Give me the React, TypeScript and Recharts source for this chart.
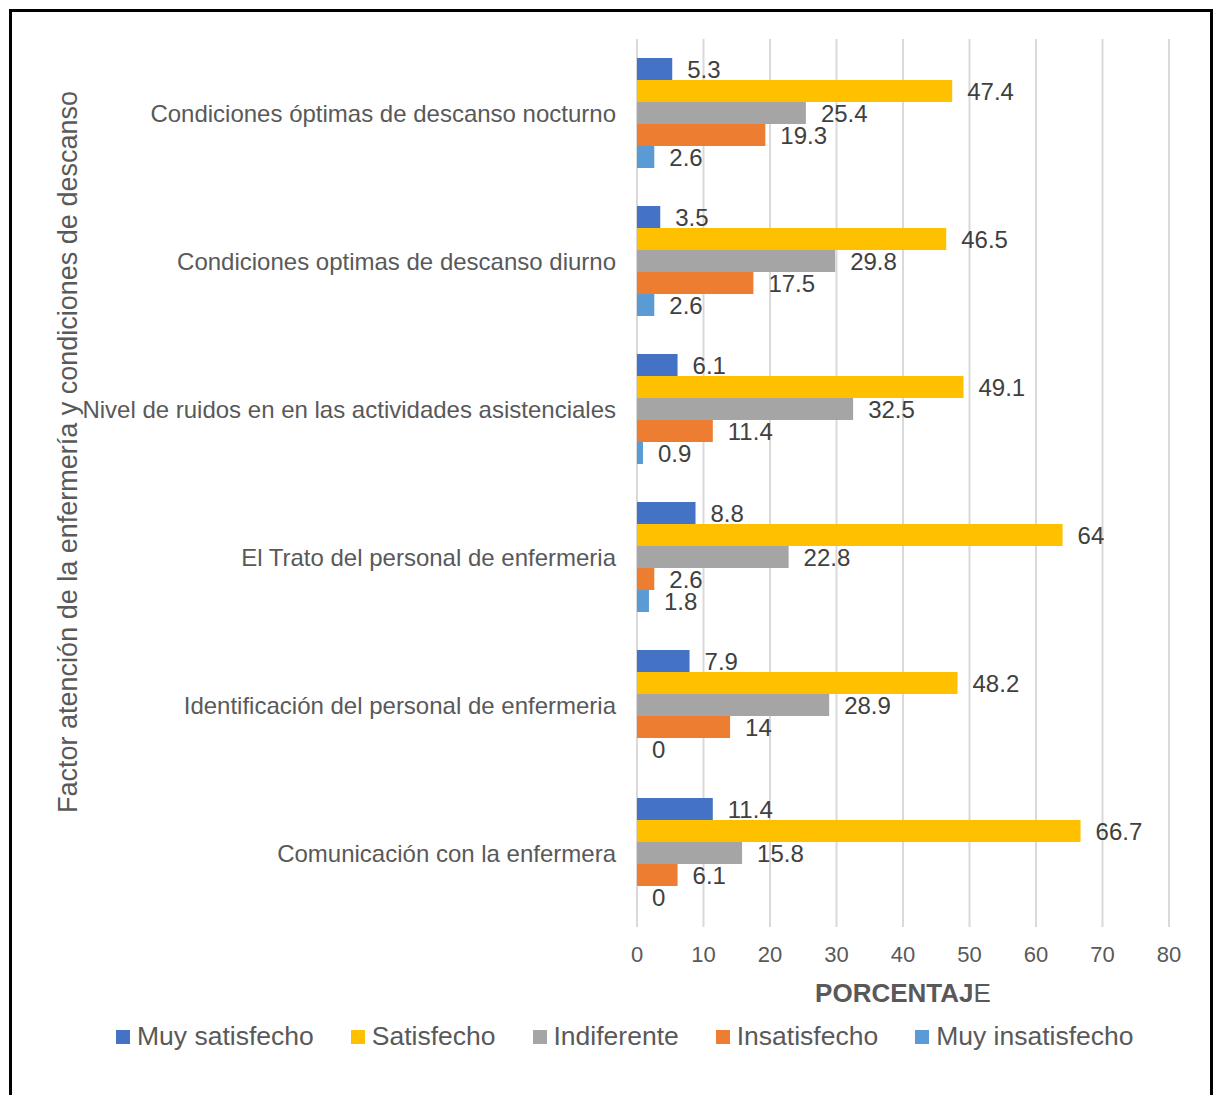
import React from "react";
import {
    BarChart,
    Bar,
    XAxis,
    YAxis,
    CartesianGrid,
    Legend,
    LabelList,
} from "recharts";

const categories = [
    "Condiciones óptimas de descanso nocturno",
    "Condiciones optimas de descanso diurno",
    "Nivel de ruidos en en las actividades asistenciales",
    "El Trato del personal de enfermeria",
    "Identificación del personal de enfermeria",
    "Comunicación con la enfermera",
];

const muySatisfecho = [5.3, 3.5, 6.1, 8.8, 7.9, 11.4];
const satisfecho = [47.4, 46.5, 49.1, 64, 48.2, 66.7];
const indiferente = [25.4, 29.8, 32.5, 22.8, 28.9, 15.8];
const insatisfecho = [19.3, 17.5, 11.4, 2.6, 14, 6.1];
const muyInsatisfecho = [2.6, 2.6, 0.9, 1.8, 0, 0];

const xTicks = [0, 10, 20, 30, 40, 50, 60, 70, 80];

const series = [
    { key: "muySatisfecho", name: "Muy satisfecho", color: "#4472C4" },
    { key: "satisfecho", name: "Satisfecho", color: "#FFC000" },
    { key: "indiferente", name: "Indiferente", color: "#A5A5A5" },
    { key: "insatisfecho", name: "Insatisfecho", color: "#ED7D31" },
    { key: "muyInsatisfecho", name: "Muy insatisfecho", color: "#5B9BD5" },
];

const data = categories.map((name, i) => ({
    name,
    muySatisfecho: muySatisfecho[i],
    satisfecho: satisfecho[i],
    indiferente: indiferente[i],
    insatisfecho: insatisfecho[i],
    muyInsatisfecho: muyInsatisfecho[i],
}));

const FONT = '"Liberation Sans", Arial, sans-serif';

function renderLegend() {
    return (
        <div style={{ display: "flex", paddingLeft: 116, gap: 37, fontFamily: FONT, fontSize: 26.5, color: "#595959" }}>
            {series.map((s) => (
                <div key={s.key} style={{ display: "flex", alignItems: "center", gap: 7 }}>
                    <span style={{ width: 14, height: 14, background: s.color, display: "inline-block" }} />
                    <span>{s.name}</span>
                </div>
            ))}
        </div>
    );
}

export default function App() {
    return (
        <div style={{ position: "fixed", left: 0, top: 0, width: 1215, height: 1095, overflow: "hidden", background: "#fff" }}>
            <div
                style={{
                    position: "absolute",
                    left: 9,
                    top: 9,
                    width: 1204,
                    height: 1120,
                    border: "3px solid #000",
                    boxSizing: "border-box",
                }}
            />
            <div style={{ position: "absolute", left: 0, top: 0 }}>
                <BarChart
                    width={1215}
                    height={1095}
                    data={data}
                    layout="vertical"
                    margin={{ top: 39, right: 46, bottom: 108, left: 0 }}
                    barCategoryGap={19}
                    barGap={0}
                    style={{ fontFamily: FONT }}
                >
                    <CartesianGrid horizontal={false} stroke="#d9d9d9" strokeWidth={2} />
                    <XAxis
                        type="number"
                        domain={[0, 80]}
                        ticks={xTicks}
                        height={60}
                        axisLine={false}
                        tickLine={false}
                        tickSize={0}
                        tickMargin={19}
                        tick={{ fill: "#595959", fontSize: 22 }}
                        label={{
                            content: () => (
                                <text x={903} y={993} textAnchor="middle" dominantBaseline="central" fill="#595959" fontSize={26}>
                                    <tspan fontWeight="bold">PORCENTAJ</tspan>
                                    <tspan>E</tspan>
                                </text>
                            ),
                        }}
                    />
                    <YAxis
                        type="category"
                        dataKey="name"
                        width={637}
                        axisLine={false}
                        tickLine={false}
                        tickSize={0}
                        tickMargin={21}
                        tick={{ fill: "#595959", fontSize: 24 }}
                        interval={0}
                        label={{
                            content: () => (
                                <text
                                    x={68}
                                    y={452}
                                    transform="rotate(-90 68 452)"
                                    textAnchor="middle"
                                    dominantBaseline="central"
                                    fill="#595959"
                                    fontSize={27}
                                >
                                    Factor atención de la enfermería y condiciones de descanso
                                </text>
                            ),
                        }}
                    />
                    <Legend
                        layout="horizontal"
                        verticalAlign="middle"
                        align="center"
                        wrapperStyle={{ top: 1021, left: 0, width: 1215 }}
                        content={renderLegend}
                    />
                    {series.map((s) => (
                        <Bar
                            key={s.key}
                            dataKey={s.key}
                            name={s.name}
                            fill={s.color}
                            minPointSize={0.01}
                            isAnimationActive={false}
                        >
                            <LabelList dataKey={s.key} position="right" offset={15} fill="#404040" fontSize={24} />
                        </Bar>
                    ))}
                </BarChart>
            </div>
        </div>
    );
}
